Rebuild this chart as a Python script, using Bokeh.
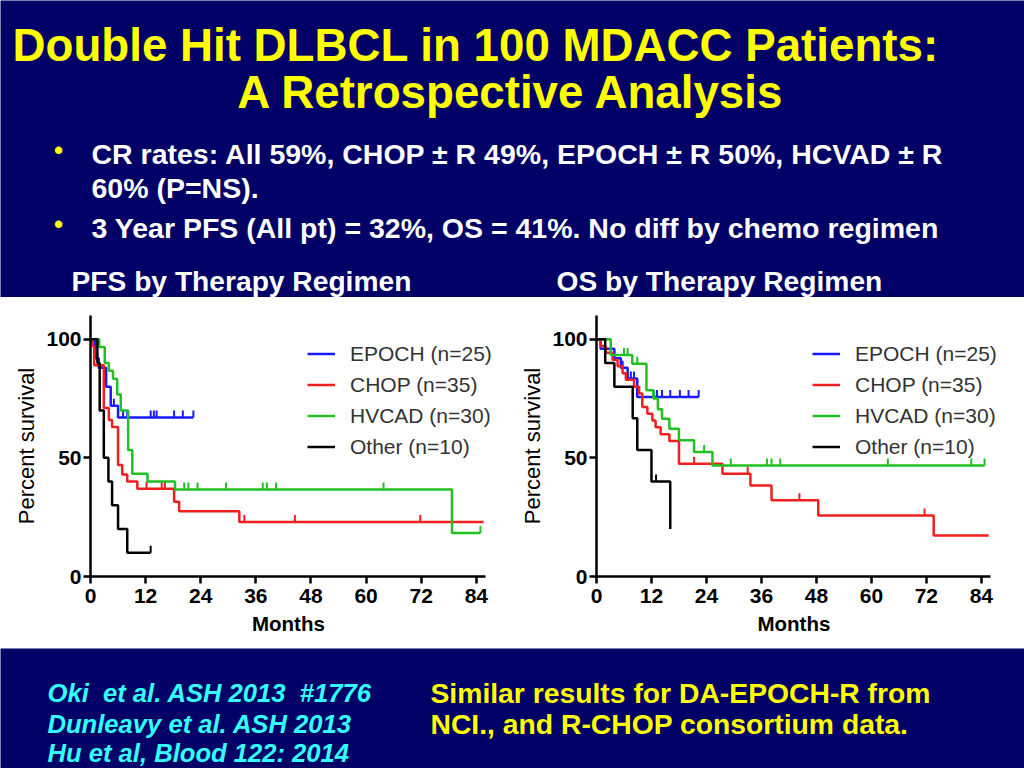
from bokeh.plotting import figure
from bokeh.layouts import column, row
from bokeh.models import Range1d, Legend, LegendItem, FixedTicker, Title
from bokeh.core.properties import value
from bokeh.embed import file_html
from bokeh.resources import INLINE

NAVY = "#000066"
FONT = "Liberation Sans"

# ---------------- texts ----------------
title_lines = ["Double Hit DLBCL in 100 MDACC Patients:", "A Retrospective Analysis"]
bullet_lines = ["CR rates: All 59%, CHOP \u00b1 R 49%, EPOCH \u00b1 R 50%, HCVAD \u00b1 R",
                "60% (P=NS).",
                "3 Year PFS (All pt) = 32%, OS = 41%. No diff by chemo regimen"]
panel_titles = ["PFS by Therapy Regimen", "OS by Therapy Regimen"]
refs = ["Oki\u00a0 et al. ASH 2013\u00a0 #1776", "Dunleavy et al. ASH 2013", "Hu et al, Blood 122: 2014"]
note_lines = ["Similar results for DA-EPOCH-R from", "NCI., and R-CHOP consortium data."]

# ---------------- chart data ----------------
regimens = ["EPOCH (n=25)", "CHOP (n=35)", "HVCAD (n=30)", "Other (n=10)"]
colors = ["#1a1aff", "#f01e1e", "#22c022", "#000000"]
month_ticks = [0, 12, 24, 36, 48, 60, 72, 84]
pct_ticks = [0, 50, 100]
x_label = "Months"
y_label = "Percent survival"

# PFS (months, percent survival, censor times)
pfs_epoch_t = [0, 1.0, 1.8, 3.4, 4.4, 6.0, 22.4]
pfs_epoch_s = [100, 92, 88, 80, 72, 67, 67]
pfs_epoch_c = [5.1, 7.1, 8.0, 13.1, 13.8, 14.4, 18.2, 20.1, 22.4]

pfs_chop_t = [0, 0.5, 0.8, 2.9, 4.0, 4.7, 6.0, 6.9, 8.0, 10.2, 18.2, 19.3, 32.4, 85.6]
pfs_chop_s = [100, 97, 89, 71, 66, 63, 47, 43, 40, 37, 31.5, 27.5, 23, 23]
pfs_chop_c = [12.2, 15.5, 16.2, 33.5, 44.5, 71.8]

pfs_hvcad_t = [0, 1.9, 3.1, 4.0, 4.9, 5.8, 6.6, 8.2, 9.1, 12.4, 18.4, 78.7, 84.9]
pfs_hvcad_s = [100, 96.7, 90, 86.7, 83.3, 76.7, 70, 53.3, 43.3, 40, 36.7, 18.3, 18.3]
pfs_hvcad_c = [20.4, 21.3, 23.3, 29.5, 37.5, 38.4, 40.4, 63.8, 84.9]

pfs_other_t = [0, 1.5, 2.0, 2.9, 3.9, 4.7, 6.0, 8.0, 13.1]
pfs_other_s = [100, 90, 70, 50, 40, 30, 20, 10, 10]
pfs_other_c = [13.1]

# OS
os_epoch_t = [0, 0.9, 3.9, 5.3, 6.8, 8.9, 22.3]
os_epoch_s = [100, 96, 92, 88, 83.5, 75.7, 75.7]
os_epoch_c = [5.7, 7.5, 8.2, 12.5, 13.2, 14.3, 16.1, 18.2, 20.1, 22.3]

os_chop_t = [0, 0.9, 2.0, 3.5, 4.6, 5.7, 6.4, 8.2, 9.3, 10.0, 11.1, 12.2, 12.9, 14.0,
             15.9, 18.0, 27.5, 33.6, 38.2, 48.4, 73.6, 85.6]
os_chop_s = [100, 97.1, 94.3, 91.4, 88.6, 85.7, 82.9, 80, 77.1, 71.4, 68.6, 65.7, 62.9, 60,
             57.1, 47.5, 43.3, 38.4, 32.1, 25.7, 17.3, 17.3]
os_chop_c = [21.3, 33.0, 44.3, 71.6]

os_hvcad_t = [0, 3.1, 7.8, 10.9, 12.4, 13.4, 14.3, 15.9, 18.0, 21.3, 25.3, 84.7]
os_hvcad_s = [100, 93.3, 89.7, 78.5, 75, 70.5, 66.5, 62.3, 57.4, 52.5, 46.8, 46.8]
os_hvcad_c = [6.0, 6.8, 8.9, 12.6, 23.5, 29.3, 37.2, 38.2, 40.1, 63.6, 81.8, 84.7]

os_other_t = [0, 1.9, 3.9, 7.9, 8.9, 12.0, 16.1]
os_other_s = [100, 90, 80, 66.7, 53.3, 40, 20]
os_other_c = [13.0]

pfs_series = [(pfs_epoch_t, pfs_epoch_s, pfs_epoch_c), (pfs_chop_t, pfs_chop_s, pfs_chop_c),
              (pfs_hvcad_t, pfs_hvcad_s, pfs_hvcad_c), (pfs_other_t, pfs_other_s, pfs_other_c)]
os_series = [(os_epoch_t, os_epoch_s, os_epoch_c), (os_chop_t, os_chop_s, os_chop_c),
             (os_hvcad_t, os_hvcad_s, os_hvcad_c), (os_other_t, os_other_s, os_other_c)]

AXIS_END = 86   # months where the drawn x axis stops
Y_END = 110


def surv_at(t, times, vals):
    s = vals[0]
    for ti, vi in zip(times, vals):
        if ti <= t:
            s = vi
    return s


def blank_fig(w, h):
    p = figure(width=w, height=h, x_range=Range1d(0, w), y_range=Range1d(h, 0),
               output_backend="svg", toolbar_location=None,
               min_border=0, x_axis_type=None, y_axis_type=None)
    p.background_fill_color = NAVY
    p.border_fill_color = NAVY
    p.outline_line_color = None
    p.grid.visible = False
    return p


def txt(p, x, y, s, size, color, style="bold", align="left"):
    p.text(x=[x], y=[y], text=[s], text_font=value(FONT), text_font_size=size,
           text_font_style=style, text_color=color, text_align=align,
           text_baseline="alphabetic")


# ---------------- header ----------------
head = blank_fig(1024, 297)
txt(head, 12, 45, title_lines[0], "45.7px", "#FFFF00")
txt(head, 511, 92, title_lines[1], "45.7px", "#FFFF00", align="center")
txt(head, 58, 149, "\u2022", "26px", "#FFFF00", align="center")
txt(head, 58, 223, "\u2022", "26px", "#FFFF00", align="center")
txt(head, 91, 153, bullet_lines[0], "28.5px", "white")
txt(head, 91, 187, bullet_lines[1], "28.5px", "white")
txt(head, 91, 227, bullet_lines[2], "28.5px", "white")
txt(head, 71, 280, panel_titles[0], "28.2px", "white")
txt(head, 556, 280, panel_titles[1], "28.2px", "white")


# ---------------- KM charts ----------------
def km_chart(width, bl, axis_px, series, legend_x):
    frame_w = width - bl
    x_end = AXIS_END * frame_w / axis_px
    p = figure(width=width, height=351, x_range=Range1d(0, x_end), y_range=Range1d(0, Y_END),
               output_backend="svg", toolbar_location=None,
               min_border_left=bl, min_border_right=0, min_border_top=18, min_border_bottom=72)
    p.background_fill_color = "white"
    p.border_fill_color = "white"
    p.outline_line_color = None
    p.grid.visible = False
    items = []
    for name, color, (t, v, ct) in zip(regimens, colors, series):
        r = p.step(t, v, mode="after", line_color=color, line_width=2.5)
        cv = [surv_at(c, t, v) for c in ct]
        p.ray(x=ct, y=cv, length=7, length_units="screen", angle=90, angle_units="deg",
              line_color=color, line_width=2)
        lt = p.scatter(x=[], y=[], marker="dash", angle=90, angle_units="deg", size=9,
                       line_color=color, line_width=2)
        items.append(LegendItem(label=name, renderers=[r, lt]))
    leg = Legend(items=items, location=(legend_x, 114), glyph_width=28, glyph_height=31,
                 label_height=31, spacing=0, padding=0, margin=0, label_standoff=15,
                 label_text_font=FONT, label_text_font_size="21px", label_text_color="#333333",
                 background_fill_alpha=0, border_line_alpha=0)
    p.add_layout(leg)
    p.xaxis.ticker = FixedTicker(ticks=month_ticks)
    p.yaxis.ticker = FixedTicker(ticks=pct_ticks)
    p.xaxis.bounds = (0, AXIS_END)
    p.yaxis.bounds = (0, Y_END)
    for ax in (p.xaxis[0], p.yaxis[0]):
        ax.axis_line_width = 2.5
        ax.axis_line_color = "black"
        ax.major_tick_line_width = 2.5
        ax.major_tick_out = 7
        ax.major_tick_in = 0
        ax.minor_tick_line_color = None
        ax.major_label_text_font = FONT
        ax.major_label_text_font_style = "bold"
        ax.major_label_text_font_size = "21px"
        ax.major_label_text_color = "black"
        ax.axis_label_text_font = FONT
        ax.axis_label_text_color = "black"
    p.xaxis.major_label_standoff = 5
    # x axis title, centred under the drawn axis (not the wider frame)
    p.add_layout(Title(text=x_label, align="left", offset=axis_px / 2 - 36,
                       text_font=FONT, text_font_style="bold", text_font_size="20.5px",
                       text_color="black", standoff=8), "below")
    p.yaxis.axis_label = y_label
    p.yaxis.axis_label_text_font_style = "normal"
    p.yaxis.axis_label_text_font_size = "22px"
    p.yaxis.axis_label_standoff = 4
    p.yaxis.major_label_standoff = 2
    return p


left = km_chart(505, 90, 395, pfs_series, 217)
right = km_chart(519, 91, 394, os_series, 216)

# ---------------- footer ----------------
foot = blank_fig(1024, 120)
txt(foot, 47, 44, refs[0], "25.6px", "#33FFFF", style="bold italic")
txt(foot, 47, 75, refs[1], "25.6px", "#33FFFF", style="bold italic")
txt(foot, 47, 104, refs[2], "25.6px", "#33FFFF", style="bold italic")
txt(foot, 430, 44, note_lines[0], "28.3px", "#FFFF00")
txt(foot, 430, 75, note_lines[1], "28.3px", "#FFFF00")

page = column(head, row(left, right, spacing=0), foot, spacing=0)
open("out.html", "w").write(file_html(page, INLINE))
